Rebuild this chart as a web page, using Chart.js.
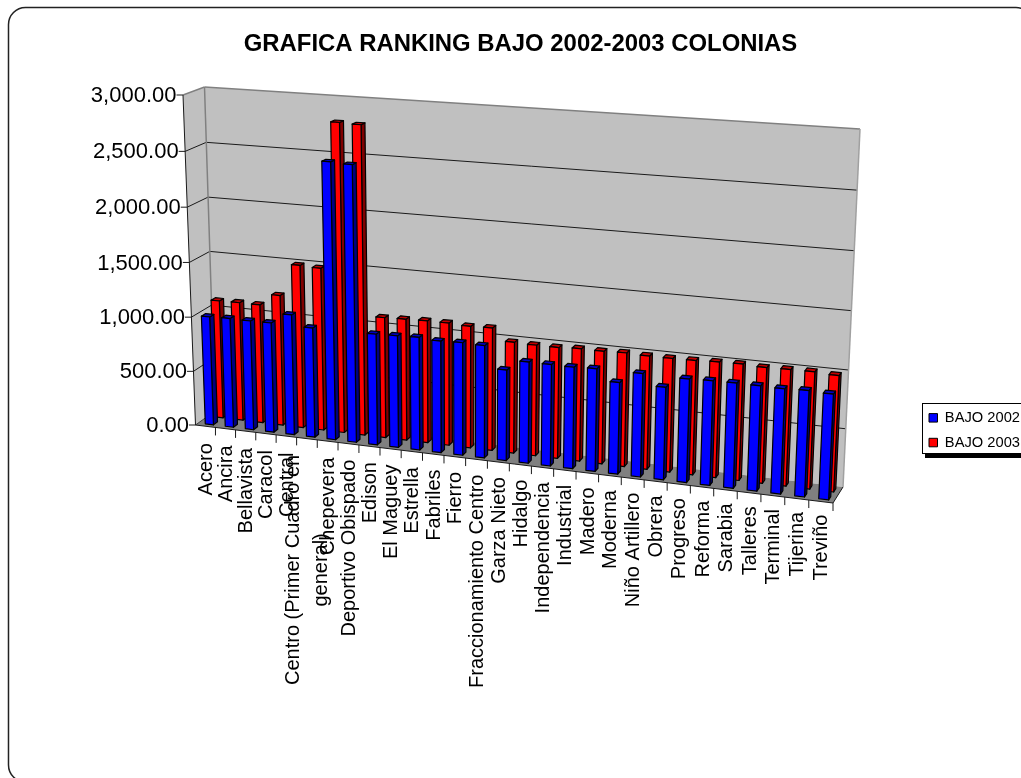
<!DOCTYPE html>
<html>
<head>
<meta charset="utf-8">
<title>Grafica ranking bajo</title>
<script src="https://cdn.jsdelivr.net/npm/chart.js@4"></script>
<style>
  html, body { margin: 0; padding: 0; background: #fff; overflow: hidden; }
  canvas { display: block; }
</style>
</head>
<body>
<canvas id="ranking" width="1021" height="778"></canvas>
<script>
// Colonias
const categories = [
    'Acero', 'Ancira', 'Bellavista', 'Caracol', 'Central',
    ['Centro (Primer Cuadro en', 'general)'], 'Chepevera', 'Deportivo Obispado',
    'Edison', 'El Maguey', 'Estrella', 'Fabriles', 'Fierro',
    'Fraccionamiento Centro', 'Garza Nieto', 'Hidalgo', 'Independencia',
    'Industrial', 'Madero', 'Moderna', 'Niño Artillero', 'Obrera', 'Progreso',
    'Reforma', 'Sarabia', 'Talleres', 'Terminal', 'Tijerina', 'Treviño'
];

const bajo2002 = [
    1000, 1005, 1002, 1003, 1095, 996, 2490, 2480, 999, 1004, 1010, 997, 1003,
    997, 802, 893, 893, 890, 897, 798, 897, 801, 893, 899, 900, 899, 895, 901, 893
];

const bajo2003 = [
    1092, 1095, 1094, 1198, 1490, 1482, 2795, 2788, 1091, 1096, 1101, 1101, 1091,
    1096, 989, 984, 983, 992, 991, 997, 991, 990, 993, 1000, 1003, 994, 999, 1000, 990
];

const FONT = '"Liberation Sans", Arial, sans-serif';

// Esquinas de la caja 3D (frente y fondo)
const box = {
    front: { lb: [195.5, 425], rb: [833, 503], lt: [183, 95], rt: [849.5, 139] },
    back: { lb: [215, 411], rb: [843, 487], lt: [204.5, 87], rt: [860, 129] }
};
const PERSP_U = 1.105;
const PERSP_V = 1.03;

function persp(t, k) {
    return t / (t + (1 - t) * k);
}

function mix(a, b, t) {
    return [a[0] + (b[0] - a[0]) * t, a[1] + (b[1] - a[1]) * t];
}

// u: a lo largo de las colonias, v: valor, d: profundidad (todo de 0 a 1)
function project(u, v, d) {
    const pu = persp(u, PERSP_U);
    const pv = persp(v, PERSP_V);
    const plane = p => mix(mix(p.lb, p.rb, pu), mix(p.lt, p.rt, pu), pv);
    return mix(plane(box.front), plane(box.back), d);
}

function polygon(ctx, points, fill, stroke) {
    ctx.beginPath();
    points.forEach((p, i) => (i ? ctx.lineTo(p[0], p[1]) : ctx.moveTo(p[0], p[1])));
    ctx.closePath();
    if (fill) {
        ctx.fillStyle = fill;
        ctx.fill();
    }
    if (stroke) {
        ctx.strokeStyle = stroke;
        ctx.stroke();
    }
}

function line(ctx, a, b, color, width) {
    ctx.beginPath();
    ctx.moveTo(a[0], a[1]);
    ctx.lineTo(b[0], b[1]);
    ctx.strokeStyle = color;
    ctx.lineWidth = width;
    ctx.stroke();
}

// Marco redondeado; los lados derecho e inferior quedan fuera del lienzo
function roundedFrame(ctx) {
    ctx.beginPath();
    ctx.roundRect(8.5, 7.5, 1024.5, 774.5, 17);
    ctx.fillStyle = '#fff';
    ctx.fill();
    ctx.strokeStyle = '#222';
    ctx.lineWidth = 1.5;
    ctx.stroke();
}

function legendBox(ctx) {
    ctx.fillStyle = '#000';
    ctx.fillRect(925, 454, 96, 4);
    ctx.fillStyle = '#fff';
    ctx.fillRect(922.5, 403.5, 110, 50);
    ctx.strokeStyle = '#000';
    ctx.lineWidth = 1;
    ctx.strokeRect(922.5, 403.5, 110, 50);
}

function drawWalls(chart) {
    const { ctx } = chart;
    const yScale = chart.scales.y;
    const area = chart.chartArea;
    const f = box.front;
    const b = box.back;

    polygon(ctx, [f.lt, b.lt, b.lb, f.lb], '#C0C0C0');
    polygon(ctx, [b.lt, b.rt, b.rb, b.lb], '#C0C0C0');
    polygon(ctx, [f.lb, f.rb, b.rb, b.lb], '#808080');

    // Lineas de division
    yScale.ticks.forEach(tick => {
        const v = (area.bottom - yScale.getPixelForValue(tick.value)) / area.height;
        if (v > 0 && v < 1) {
            const color = '#1a1a1a';
            line(ctx, project(0, v, 0), project(0, v, 1), color, 1);
            line(ctx, project(0, v, 1), project(1, v, 1), color, 1);
        }
    });

    line(ctx, f.lt, b.lt, '#808080', 1.5);
    line(ctx, b.lt, b.rt, '#808080', 1.5);
    line(ctx, b.lt, b.lb, '#808080', 1.5);
    line(ctx, b.rt, b.rb, '#A0A0A0', 1.5);
    line(ctx, f.lb, b.lb, '#404040', 1);
    line(ctx, b.rb, f.rb, '#1a1a1a', 1);
}

function drawAxes(chart) {
    const { ctx } = chart;
    const xScale = chart.scales.x;
    const yScale = chart.scales.y;
    const area = chart.chartArea;
    const f = box.front;

    line(ctx, f.lt, f.lb, '#1a1a1a', 1);
    line(ctx, f.lb, f.rb, '#1a1a1a', 1);

    ctx.fillStyle = '#000';
    ctx.textBaseline = 'middle';
    ctx.font = '22px ' + FONT;
    ctx.textAlign = 'right';
    yScale.ticks.forEach(tick => {
        const v = (area.bottom - yScale.getPixelForValue(tick.value)) / area.height;
        const p = project(0, v, 0);
        line(ctx, [p[0] - 6.5, p[1]], p, '#1a1a1a', 1);
        ctx.fillStyle = '#000';
        ctx.fillText(tick.label, p[0] - 6.5, p[1] + 1);
    });

    const step = area.width / categories.length;
    categories.forEach((name, i) => {
        const mid = xScale.getPixelForValue(i);
        const edge = (mid + step / 2 - area.left) / area.width;
        const tickAt = project(edge, 0, 0);
        line(ctx, tickAt, [tickAt[0], tickAt[1] + 8], '#1a1a1a', 1);

        // Etiqueta girada, una o dos lineas
        const u = (mid - area.left) / area.width;
        const anchor = project(u, 0, 0);
        const lines = Array.isArray(name) ? name : [name];
        ctx.save();
        ctx.translate(anchor[0] + 1, anchor[1] + 17 - 4 * u);
        ctx.rotate(-Math.PI / 2);
        ctx.font = '20px ' + FONT;
        ctx.fillStyle = '#000';
        if (lines.length === 1) {
            ctx.textAlign = 'right';
            ctx.fillText(lines[0], 0, 0);
        } else {
            const longest = Math.max(...lines.map(t => ctx.measureText(t).width));
            ctx.textAlign = 'center';
            lines.forEach((t, n) => {
                ctx.fillText(t, -longest / 2, (n - (lines.length - 1) / 2) * 28);
            });
        }
        ctx.restore();
    });
}

// Cada columna se arma con la x, y y base que calcula la escala
function drawColumns(chart, index, depthFront, depthBack, sideColor, topColor) {
    const { ctx } = chart;
    const area = chart.chartArea;
    const meta = chart.getDatasetMeta(index);
    const faceColor = chart.data.datasets[index].backgroundColor;
    ctx.lineWidth = 1.2;
    ctx.lineJoin = 'round';

    meta.data.forEach(bar => {
        const nudge = bar.width * 0.134;
        const u0 = (bar.x + nudge - bar.width / 2 - area.left) / area.width;
        const u1 = (bar.x + nudge + bar.width / 2 - area.left) / area.width;
        const v = (area.bottom - bar.y) / area.height;
        const v0 = (area.bottom - bar.base) / area.height;

        const side = [project(u1, v0, depthFront), project(u1, v0, depthBack),
            project(u1, v, depthBack), project(u1, v, depthFront)];
        const top = [project(u0, v, depthFront), project(u1, v, depthFront),
            project(u1, v, depthBack), project(u0, v, depthBack)];
        const face = [project(u0, v0, depthFront), project(u1, v0, depthFront),
            project(u1, v, depthFront), project(u0, v, depthFront)];

        polygon(ctx, side, sideColor, '#000');
        polygon(ctx, top, topColor, '#000');
        polygon(ctx, face, faceColor, '#000');
    });
}

const box3d = {
    id: 'box3d',
    afterLayout(chart) {
        // Leyenda en su caja, pegada al borde derecho
        const legend = chart.legend;
        legend.left = 919;
        legend.right = 1028;
        legend.top = 400.5;
        legend.bottom = 482;
    },
    beforeDraw(chart) {
        const { ctx } = chart;
        ctx.save();
        roundedFrame(ctx);
        legendBox(ctx);
        ctx.restore();
    },
    beforeDatasetsDraw(chart) {
        const { ctx } = chart;
        ctx.save();
        drawWalls(chart);
        drawColumns(chart, 1, 0.645, 0.855, '#800000', '#C00000');
        drawColumns(chart, 0, 0.145, 0.355, '#000080', '#0000C0');
        drawAxes(chart);
        ctx.restore();
        return false;
    }
};

new Chart(document.getElementById('ranking'), {
    type: 'bar',
    data: {
        labels: categories,
        datasets: [
            {
                label: 'BAJO 2002',
                data: bajo2002,
                backgroundColor: '#0000FF',
                borderColor: '#000',
                borderWidth: 1
            },
            {
                label: 'BAJO 2003',
                data: bajo2003,
                backgroundColor: '#FF0000',
                borderColor: '#000',
                borderWidth: 1
            }
        ]
    },
    options: {
        responsive: false,
        animation: false,
        events: [],
        layout: { padding: { left: 20, top: 30 } },
        datasets: {
            bar: { grouped: false, barPercentage: 0.41, categoryPercentage: 1 }
        },
        scales: {
            x: { display: false, ticks: { autoSkip: false } },
            y: {
                display: false,
                min: 0,
                max: 3000,
                ticks: {
                    stepSize: 500,
                    callback: value => value.toLocaleString('en-US', {
                        minimumFractionDigits: 2,
                        maximumFractionDigits: 2
                    })
                }
            }
        },
        plugins: {
            tooltip: { enabled: false },
            title: {
                display: true,
                text: 'GRAFICA RANKING BAJO 2002-2003 COLONIAS',
                color: '#000',
                font: { family: FONT, size: 23.9, weight: 'bold' },
                padding: 0
            },
            legend: {
                position: 'right',
                align: 'start',
                labels: {
                    color: '#000',
                    font: { family: FONT, size: 14.7 },
                    boxWidth: 8.5,
                    boxHeight: 8.5,
                    padding: 10
                }
            }
        }
    },
    plugins: [box3d]
});
</script>
</body>
</html>
